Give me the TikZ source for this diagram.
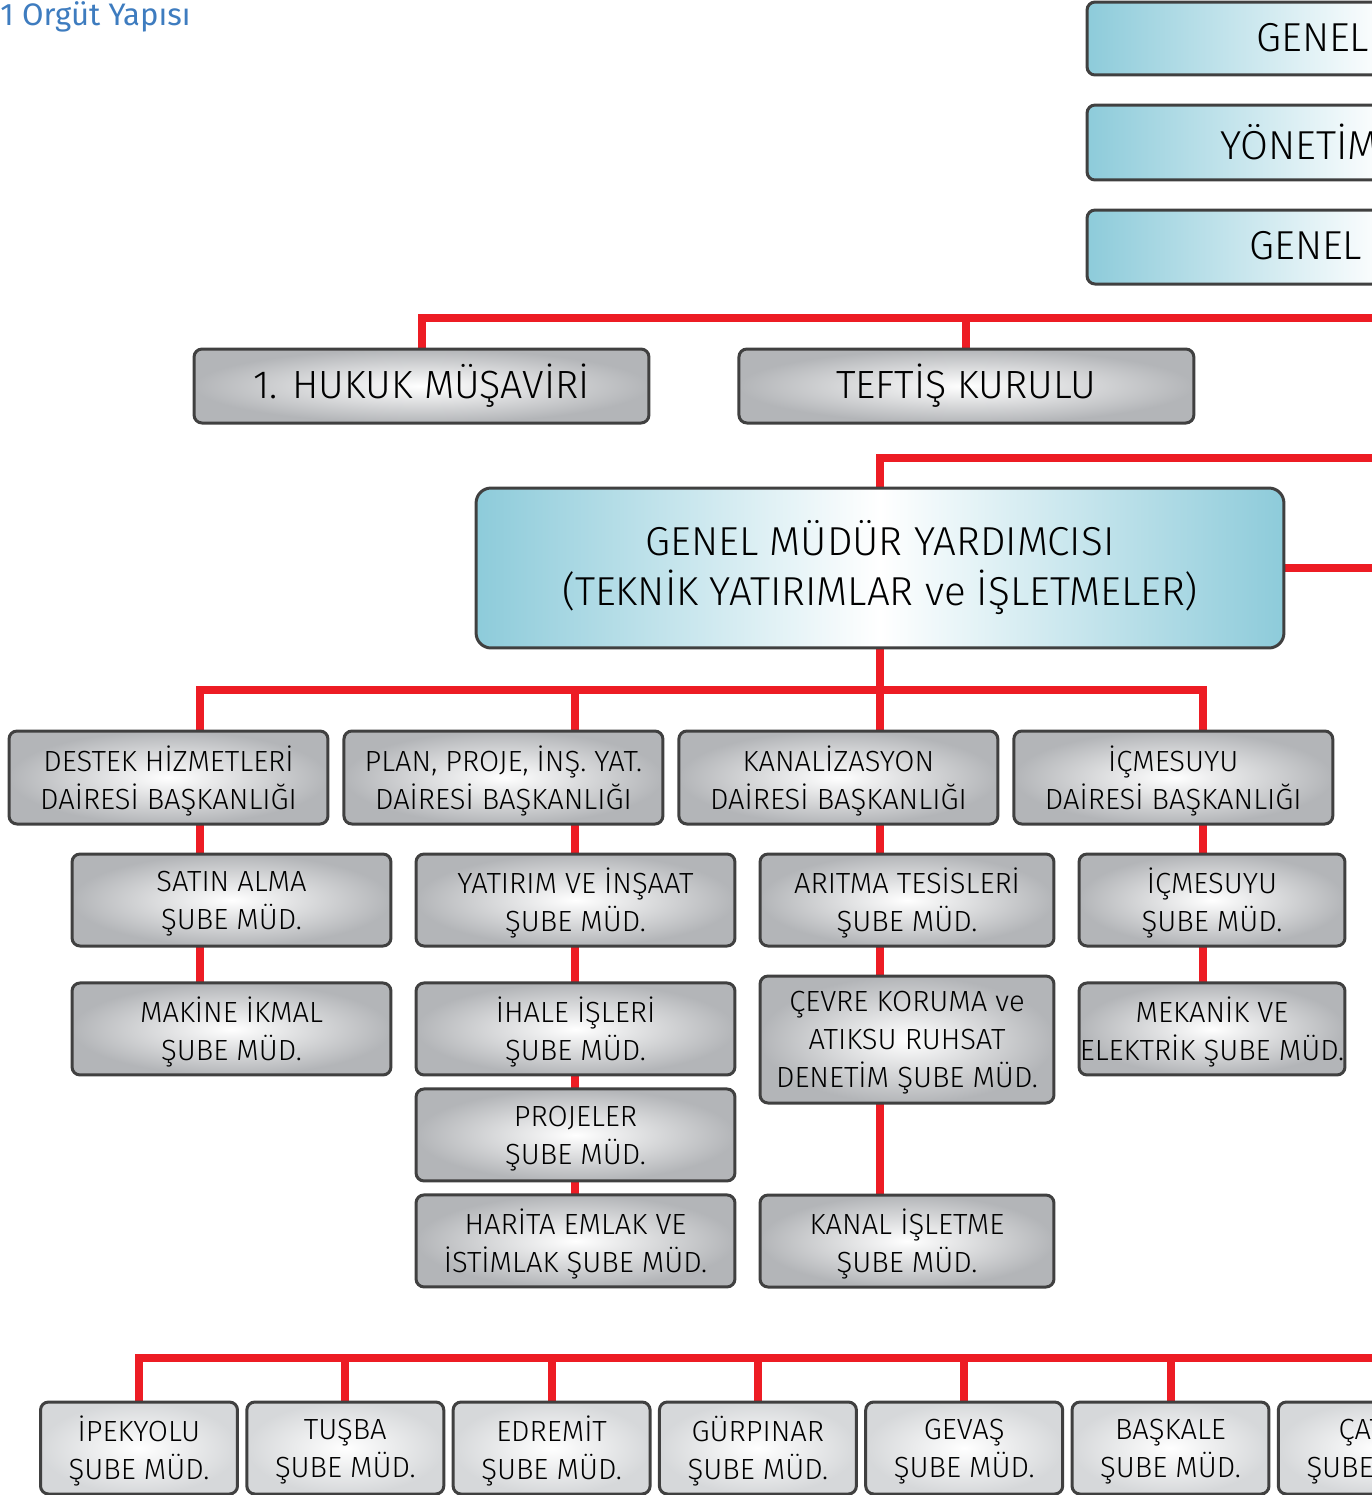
\documentclass[tikz,border=0pt]{standalone}
\usepackage{fontspec}
\setmainfont{Fira Sans Light}
\newfontfamily\titlefont{Fira Sans}
\usetikzlibrary{positioning}
\usetikzlibrary{backgrounds}
\definecolor{orgred}{HTML}{ED1C24}
\definecolor{orgline}{HTML}{404040}
\definecolor{orggray}{HTML}{B3B5B8}
\definecolor{orglight}{HTML}{D6D8DA}
\definecolor{orgblue}{HTML}{8DCBDA}
\definecolor{orgtitle}{HTML}{3E7CBF}
\tikzset{
  orgbox/.style={draw=orgline, line width=0.06cm, rounded corners=0.16cm, align=center, inner sep=0pt},
  grayunit/.style={orgbox, inner color=white, outer color=orggray, font=\fontsize{16.6}{21.6}\selectfont},
  lightunit/.style={orgbox, inner color=white, outer color=orglight, font=\fontsize{16.6}{21.6}\selectfont,
    minimum width=3.94cm, minimum height=1.84cm, text depth=0pt},
  blueunit/.style={orgbox, left color=orgblue, right color=orgblue, middle color=white},
  deptsize/.style={minimum width=6.38cm, minimum height=1.86cm, text depth=0pt},
  subsize/.style={minimum width=6.38cm, minimum height=1.84cm, text depth=0pt},
  bigtext/.style={font=\fontsize{22.4}{26}\selectfont, inner sep=0pt},
  toptext/.style={font=\fontsize{23}{27}\selectfont, inner sep=0pt},
  redline/.style={draw=orgred, line width=0.16cm, line cap=rect}
}

\begin{document}
\begin{tikzpicture}[x=0.02cm, y=-0.02cm]
\useasboundingbox (0,0) rectangle (1372,1495);
\clip (0,0) rectangle (1372,1495);

\node[anchor=base west, inner sep=0pt, text=orgtitle, font=\titlefont\fontsize{17.7}{21}\selectfont] (title) at (0,25) {1 Orgüt Yapısı};

% board boxes on the right
\node[blueunit, minimum width=12cm, minimum height=1.46cm] (kurul) at (1387,38.5) {};
\node[blueunit, minimum width=12cm, minimum height=1.5cm] (yonetim) at (1387,142.5) {};
\node[blueunit, minimum width=12cm, minimum height=1.48cm] (genel) at (1387,247) {};
\node[toptext, anchor=west] (kurulTxt) at (1256,38) {GENEL};
\node[toptext, anchor=west] (yonetimTxt) at (1220,142) {YÖNETİM};
\node[toptext, anchor=west] (genelTxt) at (1249,246) {GENEL};

\node[grayunit, bigtext, minimum width=9.1cm, minimum height=1.48cm] (hukuk) at (421.5,386) {1. HUKUK MÜŞAVİRİ};
\node[grayunit, bigtext, minimum width=9.1cm, minimum height=1.48cm, right=1.74cm of hukuk] (teftis) {TEFTİŞ KURULU};

\node[blueunit, rounded corners=0.3cm, minimum width=16.16cm, minimum height=3.2cm,
  font=\fontsize{23}{28.5}\selectfont] (gmy) at (880,568)
  {GENEL MÜDÜR YARDIMCISI\\(TEKNİK YATIRIMLAR ve İŞLETMELER)};

% daire baskanliklari
\node[grayunit, deptsize] (destek) at (168.5,777.5) {DESTEK HİZMETLERİ\\DAİRESİ BAŞKANLIĞI};
\node[grayunit, deptsize, right=0.26cm of destek] (plan) {PLAN, PROJE, İNŞ. YAT.\\DAİRESİ BAŞKANLIĞI};
\node[grayunit, deptsize, right=0.26cm of plan] (kanal) {KANALİZASYON\\DAİRESİ BAŞKANLIĞI};
\node[grayunit, deptsize, right=0.26cm of kanal] (icme) {İÇMESUYU\\DAİRESİ BAŞKANLIĞI};

% sube mudurlukleri
\node[grayunit, subsize] (satin) at (231.5,900) {SATIN ALMA\\ŞUBE MÜD.};
\node[grayunit, subsize, below=0.68cm of satin] (makine) {MAKİNE İKMAL\\ŞUBE MÜD.};

\node[grayunit, subsize] (yatirim) at (575.5,900) {YATIRIM VE İNŞAAT\\ŞUBE MÜD.};
\node[grayunit, subsize, below=0.68cm of yatirim] (ihale) {İHALE İŞLERİ\\ŞUBE MÜD.};
\node[grayunit, subsize, below=0.22cm of ihale] (projeler) {PROJELER\\ŞUBE MÜD.};
\node[grayunit, subsize, below=0.22cm of projeler] (harita) {HARİTA EMLAK VE\\İSTİMLAK ŞUBE MÜD.};

\node[grayunit, subsize, minimum width=5.88cm] (aritma) at (907,900) {ARITMA TESİSLERİ\\ŞUBE MÜD.};
\node[grayunit, minimum width=5.88cm, minimum height=2.54cm, text depth=0pt] (cevre) at (907,1039.5) {ÇEVRE KORUMA ve\\ATIKSU RUHSAT\\DENETİM ŞUBE MÜD.};
\node[grayunit, subsize, minimum width=5.88cm] (kanalis) at (907,1241) {KANAL İŞLETME\\ŞUBE MÜD.};

\node[grayunit, subsize, minimum width=5.32cm] (icmesube) at (1212,900) {İÇMESUYU\\ŞUBE MÜD.};
\node[grayunit, subsize, minimum width=5.32cm, below=0.68cm of icmesube] (mekanik) {MEKANİK VE\\ELEKTRİK ŞUBE MÜD.};

% ilce sube mudurlukleri
\foreach \name/\txt [count=\i from 0] in {ipekyolu/İPEKYOLU, tusba/TUŞBA, edremit/EDREMİT,
    gurpinar/GÜRPINAR, gevas/GEVAŞ, baskale/BAŞKALE, catak/ÇATAK}
  \node[lightunit] (\name) at (139+206.3*\i,1448) {\txt\\ŞUBE MÜD.};

\coordinate (topEnd) at (1420,318);
\coordinate (gmyEnd) at (1420,458);
\coordinate (botEnd) at (1420,1358);
\coordinate (t1) at (200,690);
\coordinate (t2) at (575,690);
\coordinate (t3) at (gmy.south |- t1);
\coordinate (t4) at (1203,690);

\begin{scope}[on background layer]
  \draw[redline] (hukuk.north) |- (topEnd);
  \draw[redline] (teftis.north) -- (teftis.north |- topEnd);
  \draw[redline] (gmy.north) |- (gmyEnd);
  \draw[redline] (gmy.east) -- (gmy.east -| gmyEnd);
  \draw[redline] (gmy.south) -- (t3);
  \draw[redline] (t1) -- (t4);
  \draw[redline] (t1) -- (makine.north -| t1);
  \draw[redline] (t2) -- (harita.north -| t2);
  \draw[redline] (t3) -- (kanalis.north -| t3);
  \draw[redline] (t4) -- (mekanik.north -| t4);
  \draw[redline] (ipekyolu.north) |- (botEnd);
  \foreach \name in {tusba, edremit, gurpinar, gevas, baskale, catak}
    \draw[redline] (\name.north) -- (\name.north |- botEnd);
\end{scope}
\end{tikzpicture}
\end{document}
